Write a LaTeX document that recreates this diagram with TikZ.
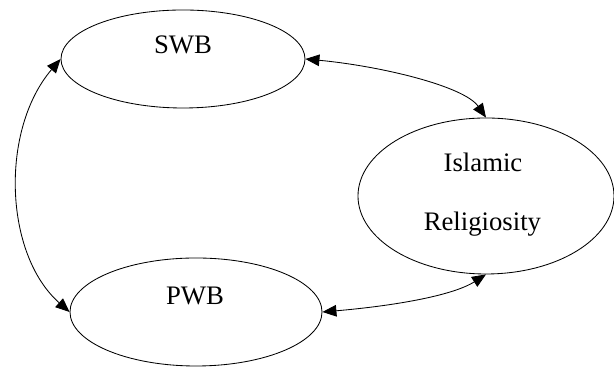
\documentclass[tikz,border=0pt]{standalone}
\usepackage{fontspec}
\setmainfont{Liberation Serif}
\usetikzlibrary{shapes.geometric, arrows.meta}

\begin{document}
\begin{tikzpicture}[
    construct/.style={ellipse, draw, line width=0.6pt, inner sep=0pt},
    construct label/.style={anchor=base, font=\fontsize{19}{23}\selectfont},
    link/.style={line width=0.6pt, {Triangle[length=0.35cm, width=0.29cm]}-{Triangle[length=0.35cm, width=0.29cm]}}
]
\useasboundingbox (0,0) rectangle (15.35,9.25);

% the three constructs
\node[construct, minimum width=6.1cm, minimum height=2.45cm] (swb) at (4.575,7.775) {};
\node[construct, minimum width=6.3cm, minimum height=2.7cm] (pwb) at (4.9,1.45) {};
\node[construct, minimum width=6.4cm, minimum height=3.9cm] (islamic) at (12.15,4.35) {};

\node[construct label] (swbText) at (4.575,7.9) {SWB};
\node[construct label] (pwbText) at (4.875,1.625) {PWB};
\node[construct label] (islamicText) at (12.075,4.95) {Islamic};
\node[construct label] (religiosityText) at (12.06,3.475) {Religiosity};

% correlations
\draw[link] (swb.west) .. controls (0,6.0) and (0.1,2.9) .. (pwb.west);
\draw[link] (swb.east) .. controls (9.5,7.6) and (11.6,7.1) .. (islamic.north);
\draw[link] (pwb.east) .. controls (9.8,1.6) and (11.3,1.85) .. (islamic.south);

\end{tikzpicture}
\end{document}
